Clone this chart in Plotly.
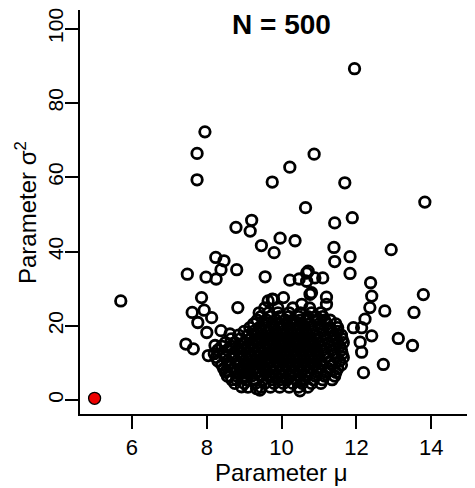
import plotly.graph_objects as go

# ---- data ----
# scattered points outside the dense core (mu, sigma^2)
mu_outer = [11.95, 7.95, 7.74, 7.74, 9.75, 10.22, 10.87, 11.69, 13.83, 10.64,
            9.20, 8.78, 9.16, 9.96, 10.36, 9.46, 9.80, 8.24, 8.46, 8.38,
            8.80, 7.48, 7.98, 8.25, 9.56, 10.22, 10.47, 10.67, 7.86, 9.75,
            10.05, 11.89, 11.42, 11.40, 11.83, 11.42, 12.93, 11.83, 12.38, 12.41,
            13.79, 10.71, 10.89, 11.10, 10.67, 10.80, 11.20, 5.70, 12.76, 13.54,
            12.36, 12.23, 12.41, 13.12, 13.50, 12.72, 12.19, 12.14, 12.10, 12.14,
            11.92, 11.20, 10.76, 10.54, 7.61, 7.93, 8.13, 7.76, 8.83, 8.00,
            8.38, 7.44, 7.64, 8.04, 8.22, 8.62, 8.53, 8.67, 8.93, 9.33,
            9.78, 10.49, 9.42, 9.64]
sigma2_outer = [89.2, 72.2, 66.4, 59.3, 58.7, 62.7, 66.2, 58.5, 53.3, 51.8,
                48.4, 46.5, 45.5, 43.6, 42.9, 41.6, 39.7, 38.4, 37.5, 35.1,
                35.1, 33.9, 33.1, 32.6, 33.2, 32.3, 32.6, 34.2, 27.6, 27.2,
                27.6, 49.1, 47.7, 41.1, 38.6, 37.3, 40.5, 34.1, 31.6, 28.0,
                28.4, 34.7, 32.9, 32.9, 32.0, 28.9, 27.7, 26.7, 24.0, 23.6,
                24.9, 21.8, 17.3, 16.6, 14.7, 9.6, 7.4, 19.5, 15.6, 12.9,
                19.5, 25.8, 28.5, 25.8, 23.6, 24.2, 22.2, 20.9, 24.9, 18.2,
                18.7, 15.1, 13.8, 12.0, 14.7, 17.8, 8.0, 5.5, 3.6, 3.1,
                27.1, 2.5, 2.7, 26.7]

# dense core, read row by row: sigma^2 level and the mu values along it
core_sigma2 = [3.5, 4.5, 5.5, 6.5, 7.5, 8.5, 9.5, 10.5, 11.5, 12.5, 13.5,
               14.5, 15.5, 16.5, 17.5, 18.5, 19.5, 20.5, 21.5, 22.5, 23.5, 24.8]
core_mu = [
    [9.10, 9.45, 9.70, 9.95, 10.20, 10.45, 10.70],
    [8.75, 9.00, 9.30, 9.55, 9.80, 10.05, 10.30, 10.55, 10.80, 11.05],
    [8.80, 9.05, 9.25, 9.50, 9.75, 9.95, 10.15, 10.40, 10.60, 10.85, 11.10, 11.35],
    [8.55, 8.80, 9.00, 9.20, 9.45, 9.65, 9.85, 10.05, 10.25, 10.45, 10.65, 10.90, 11.15, 11.42],
    [8.50, 8.75, 8.95, 9.15, 9.35, 9.55, 9.75, 9.95, 10.10, 10.30, 10.50, 10.70, 10.95, 11.20, 11.45],
    [8.45, 8.70, 8.90, 9.10, 9.30, 9.50, 9.70, 9.85, 10.00, 10.20, 10.40, 10.60, 10.80, 11.00, 11.25, 11.50],
    [8.40, 8.60, 8.85, 9.05, 9.25, 9.45, 9.60, 9.80, 9.95, 10.10, 10.30, 10.50, 10.70, 10.90, 11.10, 11.35, 11.60],
    [8.30, 8.55, 8.80, 9.00, 9.20, 9.40, 9.55, 9.70, 9.90, 10.05, 10.25, 10.45, 10.65, 10.85, 11.05, 11.30, 11.55],
    [8.25, 8.50, 8.70, 8.95, 9.15, 9.35, 9.50, 9.65, 9.85, 10.00, 10.20, 10.40, 10.60, 10.80, 11.00, 11.20, 11.45, 11.65],
    [8.20, 8.45, 8.70, 8.90, 9.10, 9.30, 9.45, 9.60, 9.80, 9.95, 10.15, 10.35, 10.55, 10.75, 10.95, 11.15, 11.40, 11.62],
    [8.30, 8.55, 8.80, 9.00, 9.20, 9.40, 9.55, 9.75, 9.90, 10.10, 10.30, 10.50, 10.70, 10.90, 11.10, 11.35, 11.60],
    [8.40, 8.65, 8.90, 9.10, 9.30, 9.50, 9.70, 9.85, 10.05, 10.25, 10.45, 10.65, 10.85, 11.05, 11.30, 11.55],
    [8.50, 8.75, 9.00, 9.20, 9.40, 9.60, 9.80, 10.00, 10.20, 10.40, 10.60, 10.80, 11.00, 11.25, 11.50, 11.65],
    [8.65, 8.90, 9.15, 9.35, 9.55, 9.75, 9.95, 10.15, 10.35, 10.55, 10.75, 10.95, 11.20, 11.45, 11.62],
    [8.85, 9.10, 9.30, 9.50, 9.70, 9.90, 10.10, 10.30, 10.50, 10.70, 10.90, 11.15, 11.40, 11.60],
    [9.00, 9.25, 9.45, 9.65, 9.85, 10.05, 10.25, 10.45, 10.65, 10.85, 11.10, 11.32, 11.50],
    [9.15, 9.40, 9.60, 9.80, 10.00, 10.20, 10.40, 10.60, 10.80, 11.05, 11.30, 11.50],
    [9.25, 9.50, 9.75, 9.95, 10.15, 10.35, 10.55, 10.75, 11.00, 11.22, 11.45],
    [9.35, 9.60, 9.85, 10.10, 10.30, 10.50, 10.70, 10.95, 11.15, 11.30],
    [9.45, 9.70, 9.95, 10.20, 10.45, 10.70, 10.92, 11.10],
    [9.40, 9.65, 9.90, 10.20, 10.50, 10.80, 11.05],
    [9.55, 9.90, 10.30, 10.75],
]

# highlighted (true) value
mu_true = [5.0]
sigma2_true = [0.5]

x_ticks = [6, 8, 10, 12, 14]
y_ticks = [0, 20, 40, 60, 80, 100]
title_text = "N = 500"

# ---- build ----
mu_all = list(mu_outer)
s2_all = list(sigma2_outer)
for s2, row in zip(core_sigma2, core_mu):
    for m in row:
        mu_all.append(m)
        s2_all.append(s2)

FONT = "Liberation Sans, Arial, Helvetica, sans-serif"

fig = go.Figure()
fig.add_trace(go.Scatter(
    x=mu_all, y=s2_all, mode="markers",
    marker=dict(symbol="circle-open", size=10.5, color="black",
                line=dict(color="black", width=2.8)),
    hoverinfo="skip", showlegend=False))
fig.add_trace(go.Scatter(
    x=mu_true, y=sigma2_true, mode="markers",
    marker=dict(symbol="circle", size=12, color="#ee0000",
                line=dict(color="black", width=1.3)),
    hoverinfo="skip", showlegend=False))

axis_common = dict(
    showline=True, linecolor="black", linewidth=1.5, mirror=False,
    ticks="outside", ticklen=13, tickwidth=1.5, tickcolor="black",
    showgrid=False, zeroline=False, automargin=False,
    ticklabeloverflow="allow",
)
# page has an 8px body margin, so the figure is laid out shifted by -8px
fig.update_xaxes(range=[4.61, 15.385], tickvals=x_ticks,
                 ticktext=[str(v) for v in x_ticks],
                 tickfont=dict(family=FONT, size=22, color="black"),
                 **axis_common)
fig.update_yaxes(range=[-3.73, 105], tickvals=y_ticks,
                 ticktext=[str(v) for v in y_ticks], tickangle=-90,
                 ticklabelstandoff=-6,
                 tickfont=dict(family=FONT, size=21, color="black"),
                 **axis_common)

fig.add_annotation(text="<b>" + title_text + "</b>", x=10, xref="x",
                   y=0.963, yref="paper", showarrow=False,
                   xanchor="center", yanchor="middle",
                   font=dict(family=FONT, size=28, color="black"))
fig.add_annotation(text="Parameter \u03bc", x=10, xref="x",
                   y=-0.1436, yref="paper", showarrow=False,
                   xanchor="center", yanchor="middle",
                   font=dict(family=FONT, size=24, color="black"))
fig.add_annotation(text="Parameter \u03c3<sup>2</sup>", x=-0.134, xref="paper",
                   y=0.5, yref="paper", showarrow=False, textangle=-90,
                   xanchor="center", yanchor="middle",
                   font=dict(family=FONT, size=24, color="black"))

fig.update_layout(
    width=475, height=488,
    margin=dict(l=72, r=0, t=2, b=82, autoexpand=False),
    paper_bgcolor="white", plot_bgcolor="white",
)

fig.write_html("out.html")
